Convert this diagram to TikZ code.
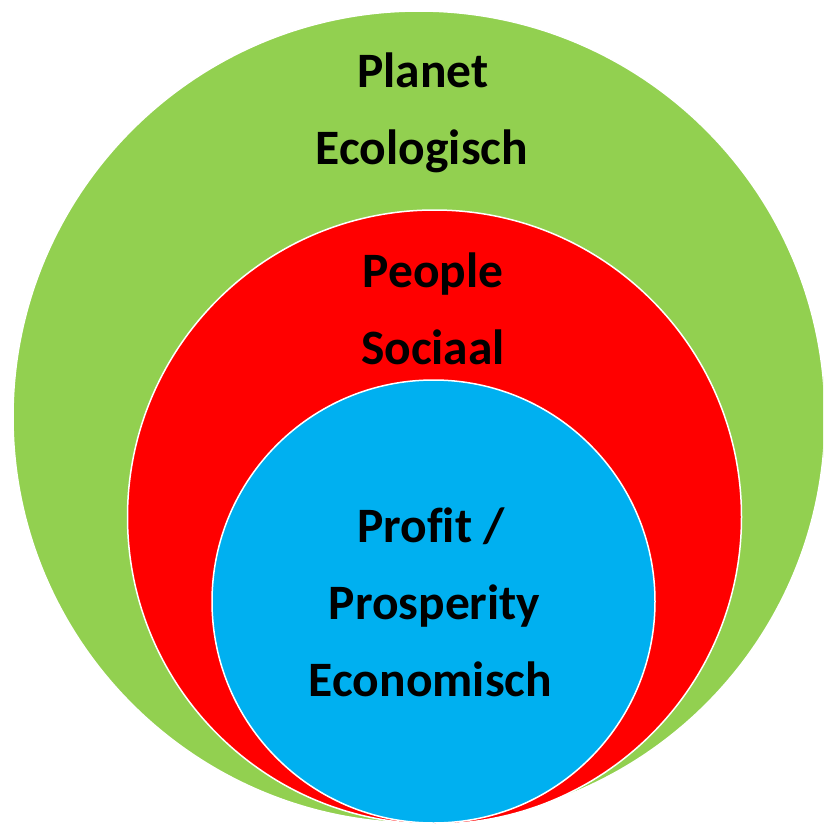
\documentclass[tikz,border=0pt]{standalone}
\usepackage{fontspec}
\setmainfont{Carlito}[Ligatures=NoCommon]
\definecolor{planetgreen}{HTML}{92D050}
\definecolor{peoplered}{HTML}{FF0000}
\definecolor{profitblue}{HTML}{00B0F0}
\begin{document}
\begin{tikzpicture}[x=1pt,y=-1pt,
  ring/.style={draw=white,line width=1.5pt},
  label/.style={font=\fontsize{49.5}{77}\selectfont\bfseries,anchor=base,text=black,inner sep=0pt}]
\clip (0,0) rectangle (823,825);
\useasboundingbox (0,0) rectangle (823,825);
\fill[white] (0,0) rectangle (823,825);
\path[ring,fill=planetgreen] (419,417) circle[radius=406];
\path[ring,fill=peoplered] (434.5,517) circle[radius=307];
\path[ring,fill=profitblue] (433.5,601.5) circle[radius=221.5];
\node[label] (planet) at (423,87) {Planet};
\node[label] (ecologisch) at (422,164) {Ecologisch};
\node[label] (people) at (433,287) {People};
\node[label] (sociaal) at (433,364) {Sociaal};
\node[label] (profit) at (431,542) {Profit /};
\node[label] (prosperity) at (434.5,619) {Prosperity};
\node[label] (economisch) at (430.5,696) {Economisch};
\end{tikzpicture}
\end{document}
